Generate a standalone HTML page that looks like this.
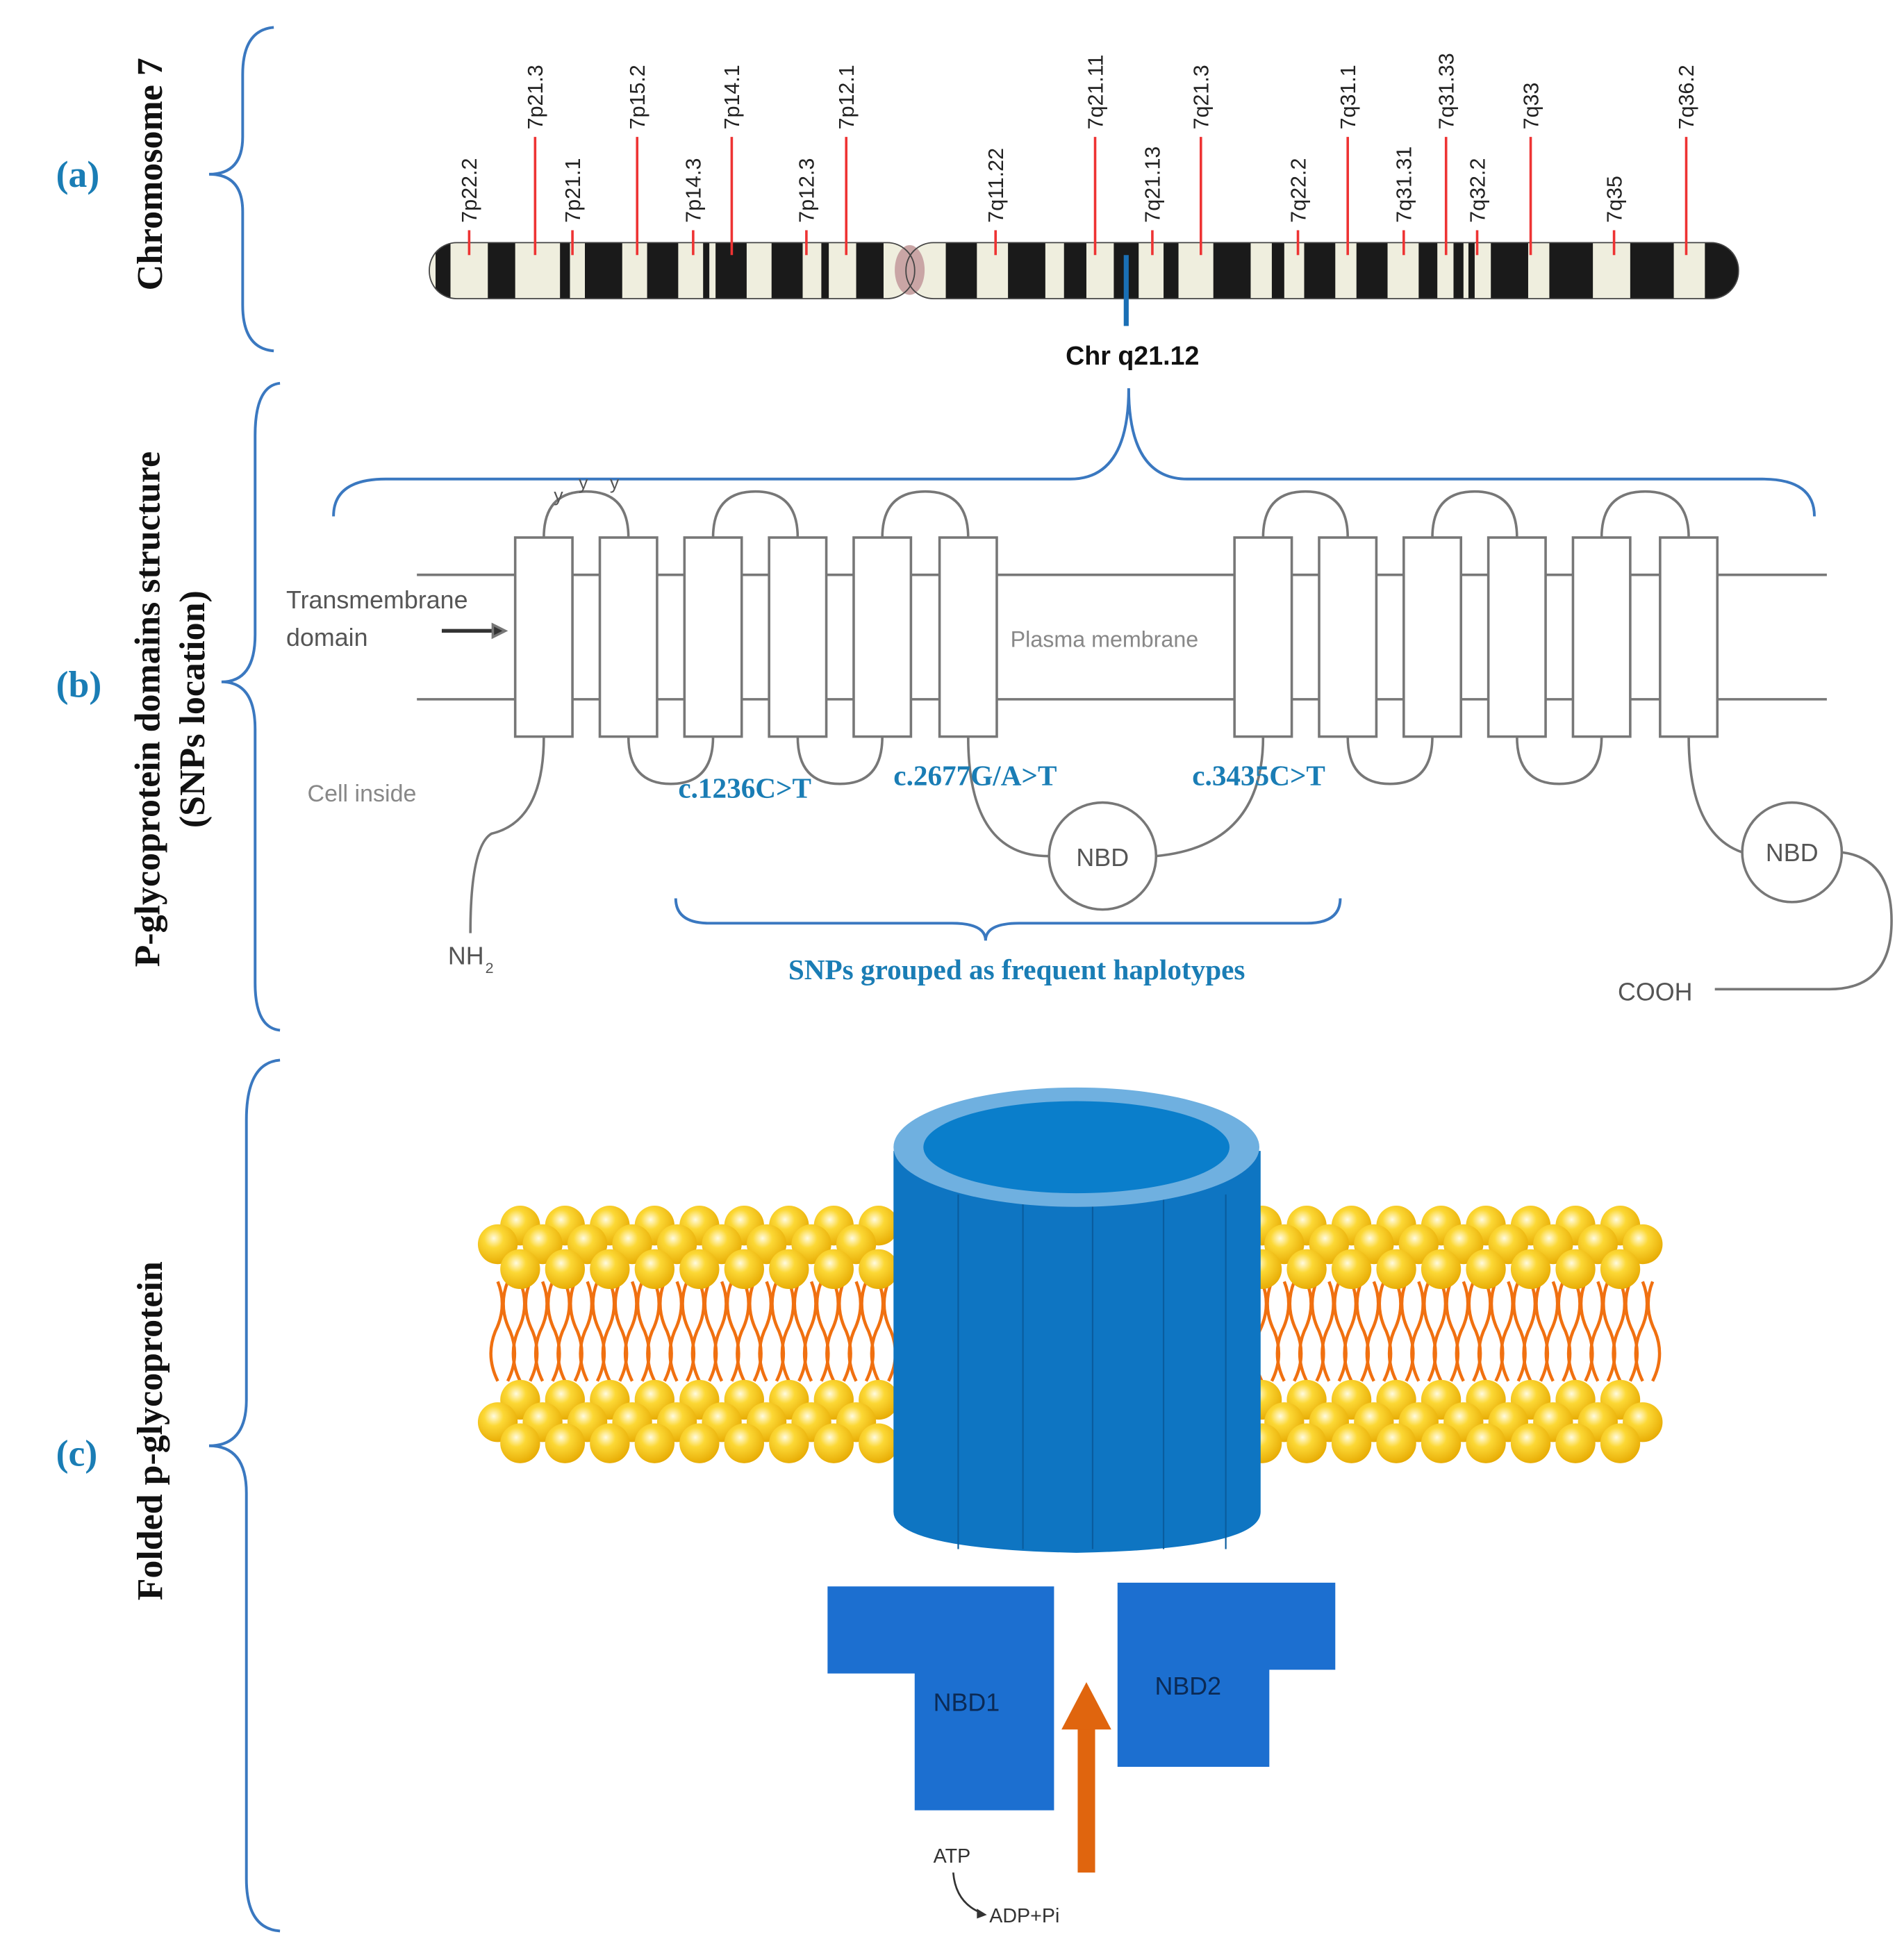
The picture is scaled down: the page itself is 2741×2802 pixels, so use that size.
<!DOCTYPE html>
<html><head><meta charset="utf-8"><style>
html,body{margin:0;padding:0;background:#fff;}
svg{display:block;}
.lab{font-family:"Liberation Serif",serif;font-weight:bold;fill:#1a7db5;}
.rot{font-family:"Liberation Serif",serif;font-weight:bold;fill:#111;}
.g{font-family:"Liberation Sans",sans-serif;fill:#555;}
</style></head><body>
<svg id="s" width="2741" height="2802" viewBox="0 0 1530 1564" xmlns="http://www.w3.org/2000/svg">
<defs>
<clipPath id="cc"><rect x="345" y="195" width="390" height="45" rx="22"/><rect x="728" y="195" width="669" height="45" rx="22"/></clipPath>
</defs>
<g fill="none" stroke="#3a78c0" stroke-width="2.2">
<path d="M220,22 Q195,24 195,60 L195,110 Q195,140 168,140 Q195,140 195,170 L195,245 Q195,280 220,282"/>
<path d="M225,308 Q205,310 205,350 L205,510 Q205,548 178,548 Q205,548 205,586 L205,790 Q205,826 225,828"/>
<path d="M225,852 Q198,854 198,900 L198,1125 Q198,1162 168,1162 Q198,1162 198,1200 L198,1510 Q198,1550 225,1552"/>
<path d="M268,415 Q268,385 310,385 L860,385 Q907,385 907,312 Q907,385 954,385 L1416,385 Q1458,385 1458,415"/>
<path d="M543,722 Q543,742 570,742 L765,742 Q792,742 792,756 Q792,742 819,742 L1050,742 Q1077,742 1077,722"/>
</g>
<text class="lab" x="45" y="150" font-size="30">(a)</text>
<text class="lab" x="45" y="560" font-size="30">(b)</text>
<text class="lab" x="45" y="1178" font-size="30">(c)</text>
<text class="rot" font-size="29" transform="translate(130,140) rotate(-90)" text-anchor="middle">Chromosome 7</text>
<text class="rot" font-size="29" transform="translate(128,570) rotate(-90)" text-anchor="middle">P-glycoprotein domains structure</text>
<text class="rot" font-size="29" transform="translate(164,570) rotate(-90)" text-anchor="middle">(SNPs location)</text>
<text class="rot" font-size="29" transform="translate(130,1150) rotate(-90)" text-anchor="middle">Folded p-glycoprotein</text>
<g id="chrc" clip-path="url(#cc)"></g>
<g id="chr"></g>
<line x1="905" y1="205" x2="905" y2="262" stroke="#1a6fb5" stroke-width="4"/>
<text x="910" y="293" font-family="Liberation Sans,sans-serif" font-weight="bold" font-size="21" text-anchor="middle" fill="#111">Chr q21.12</text>
<g stroke="#777" stroke-width="2" fill="none">
<line x1="335" y1="462" x2="1468" y2="462"/><line x1="335" y1="562" x2="1468" y2="562"/>
<g id="tm"></g>
<path d="M437,592 Q437,660 395,670 Q378,680 378,750"/>
<path d="M778,592 Q778,690 845,688"/>
<path d="M1015,592 Q1015,680 929,688"/>
<circle cx="886" cy="688" r="43" fill="#fff"/>
<path d="M1357,592 Q1357,670 1400,685"/>
<circle cx="1440" cy="685" r="40" fill="#fff"/>
<path d="M1480,685 Q1520,690 1520,740 Q1520,795 1470,795 L1378,795"/>
<path d="M355,507 L400,507" stroke="#333" stroke-width="3"/>
<path d="M396,502 L406,507 L396,512Z" fill="#333"/>
</g>
<g class="g" font-size="20">
<text x="230" y="489">Transmembrane</text><text x="230" y="519">domain</text>
<text x="812" y="520" font-size="18" fill="#888">Plasma membrane</text>
<text x="247" y="644" font-size="19" fill="#888">Cell inside</text>
<text x="886" y="696" text-anchor="middle">NBD</text>
<text x="1440" y="692" text-anchor="middle">NBD</text>
<text x="1300" y="804">COOH</text>
<text x="360" y="775">NH</text><text x="390" y="782" font-size="12">2</text>
<text x="445" y="403" font-size="15">y</text><text x="465" y="393" font-size="15">y</text><text x="490" y="393" font-size="15">y</text>
</g>
<g class="lab" font-size="23">
<text x="545" y="641">c.1236C&gt;T</text>
<text x="718" y="631">c.2677G/A&gt;T</text>
<text x="958" y="631">c.3435C&gt;T</text>
<text x="817" y="787" text-anchor="middle">SNPs grouped as frequent haplotypes</text>
</g>
<g id="lip"></g>
<g id="cyl"></g>
<polygon points="665,1275 847,1275 847,1455 735,1455 735,1345 665,1345" fill="#1c6fd0"/>
<polygon points="898,1272 1073,1272 1073,1342 1020,1342 1020,1420 898,1420" fill="#1c6fd0"/>
<text x="750" y="1375" font-family="Liberation Sans,sans-serif" font-size="20" fill="#0b2a55">NBD1</text>
<text x="928" y="1362" font-family="Liberation Sans,sans-serif" font-size="20" fill="#0b2a55">NBD2</text>
<rect x="866" y="1385" width="14" height="120" fill="#e0650e"/>
<polygon points="853,1390 893,1390 873,1352" fill="#e0650e"/>
<text x="750" y="1497" font-family="Liberation Sans,sans-serif" font-size="16" fill="#333">ATP</text>
<text x="795" y="1545" font-family="Liberation Sans,sans-serif" font-size="16" fill="#333">ADP+Pi</text>
<path d="M766,1505 Q768,1530 790,1538" stroke="#333" stroke-width="1.5" fill="none"/>
<polygon points="785,1534 793,1539 785,1542" fill="#333"/>
</svg>
<script>
(function(){
var NS="http://www.w3.org/2000/svg";
function el(p,t,a){var e=document.createElementNS(NS,t);for(var k in a)e.setAttribute(k,a[k]);p.appendChild(e);return e;}
var chrc=document.getElementById('chrc');
var chr=document.getElementById('chr');
el(chrc,'rect',{x:340,y:190,width:1060,height:55,fill:'#efeede'});
var bands=[[350,12],[392,22],[450,8],[470,30],[520,25],[565,5],[575,25],[620,25],[660,6],[688,22],[760,25],[810,30],[855,18],[895,20],[935,12],[975,30],[1022,10],[1048,25],[1090,25],[1140,15],[1168,8],[1180,5],[1198,30],[1245,35],[1310,35],[1370,30]];
bands.forEach(function(b){el(chrc,'rect',{x:b[0],y:190,width:b[1],height:55,fill:'#1a1a1a'});});
el(chr,'ellipse',{cx:731,cy:217,rx:12,ry:20,fill:'#c9a5a5'});
el(chr,'rect',{x:345,y:195,width:390,height:45,rx:22,fill:'none',stroke:'#444'});
el(chr,'rect',{x:728,y:195,width:669,height:45,rx:22,fill:'none',stroke:'#444'});
var L=[["7p22.2",377,0],["7p21.3",430,1],["7p21.1",460,0],["7p15.2",512,1],["7p14.3",557,0],["7p14.1",588,1],["7p12.3",648,0],["7p12.1",680,1],["7q11.22",800,0],["7q21.11",880,1],["7q21.13",926,0],["7q21.3",965,1],["7q22.2",1043,0],["7q31.1",1083,1],["7q31.31",1128,0],["7q31.33",1162,1],["7q32.2",1187,0],["7q33",1230,1],["7q35",1297,0],["7q36.2",1355,1]];
L.forEach(function(l){var tp=l[2]?110:185;el(chr,'line',{x1:l[1],y1:tp,x2:l[1],y2:205,stroke:'#e33',"stroke-width":2});
var t=el(chr,'text',{transform:'translate('+(l[1]+6)+','+(tp-6)+') rotate(-90)','font-family':'Liberation Sans,sans-serif','font-size':17,fill:'#222'});t.textContent=l[0];});
var tm=document.getElementById('tm');
var xs=[414,482,550,618,686,755,992,1060,1128,1196,1264,1334];
function tloop(a,b){el(tm,'path',{d:'M'+(a+23)+',432 Q'+(a+23)+',395 '+((a+b)/2+23)+',395 Q'+(b+23)+',395 '+(b+23)+',432'});}
function bloop(a,b){el(tm,'path',{d:'M'+(a+23)+',592 Q'+(a+23)+',630 '+((a+b)/2+23)+',630 Q'+(b+23)+',630 '+(b+23)+',592'});}
[[0,1],[2,3],[4,5],[6,7],[8,9],[10,11]].forEach(function(p){tloop(xs[p[0]],xs[p[1]]);});
[[1,2],[3,4],[7,8],[9,10]].forEach(function(p){bloop(xs[p[0]],xs[p[1]]);});
xs.forEach(function(x){el(tm,'rect',{x:x,y:432,width:46,height:160,fill:'#fff'});});
var lip=document.getElementById('lip');
var defs=el(lip,'defs',{});var rg=el(defs,'radialGradient',{id:'yb',cx:'0.4',cy:'0.35',r:'0.7'});
el(rg,'stop',{offset:'0','stop-color':'#fffbe0'});el(rg,'stop',{offset:'0.35','stop-color':'#fcd835'});el(rg,'stop',{offset:'1','stop-color':'#e6a800'});
function region(x0,x1){
 for(var x=x0;x<=x1;x+=18){el(lip,'path',{d:'M'+x+',1030 q8,20 -2,40 q-8,20 2,40 M'+(x+8)+',1030 q-8,20 2,40 q8,20 -2,40',stroke:'#f07010','stroke-width':2.5,fill:'none'});}
 [[985,18],[1000,0],[1020,18]].forEach(function(r){for(var x=x0+r[1];x<=x1;x+=36)el(lip,'circle',{cx:x,cy:r[0],r:16,fill:'url(#yb)'});});
 [[1125,18],[1143,0],[1160,18]].forEach(function(r){for(var x=x0+r[1];x<=x1;x+=36)el(lip,'circle',{cx:x,cy:r[0],r:16,fill:'url(#yb)'});});
}
region(400,708);region(996,1330);
var cyl=document.getElementById('cyl');
el(cyl,'path',{d:'M718,925 L718,1215 Q718,1245 865,1248 Q1013,1245 1013,1215 L1013,925 Z',fill:'#0e75c2'});
[770,822,878,935,985].forEach(function(x){el(cyl,'line',{x1:x,y1:960,x2:x,y2:1245,stroke:'#0a5c9e','stroke-width':1.2});});
el(cyl,'ellipse',{cx:865,cy:922,rx:147,ry:48,fill:'#6fb0e0'});
el(cyl,'ellipse',{cx:865,cy:922,rx:123,ry:37,fill:'#0a7ecb'});
})();
</script>
</body></html>
